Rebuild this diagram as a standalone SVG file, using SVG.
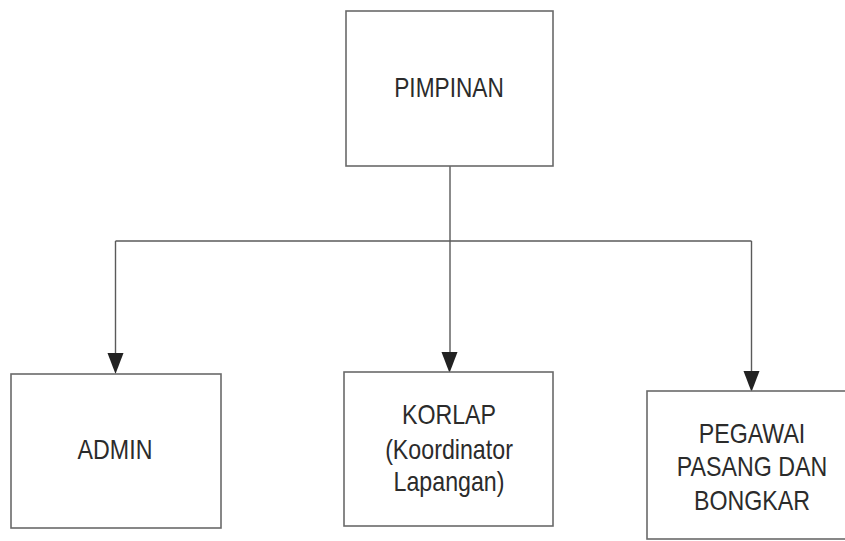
<svg xmlns="http://www.w3.org/2000/svg" width="845" height="541" viewBox="0 0 845 541">
  <style>
    .box { fill: #ffffff; stroke: #6a6a6a; stroke-width: 1.6; }
    .wire { fill: none; stroke: #5a5a5a; stroke-width: 1.4; }
    .head { fill: #222222; }
    .t { font-family: "Liberation Sans", Arial, sans-serif; font-size: 27px; fill: #2b2b2b; text-anchor: middle; }
  </style>
  <rect width="845" height="541" fill="#ffffff"/>

  <!-- connectors -->
  <g id="connectors">
    <path class="wire" d="M450,166 V353"/>
    <path class="wire" d="M115.5,241 H751.5"/>
    <path class="wire" d="M115.5,241 V354"/>
    <path class="wire" d="M751.5,241 V372"/>
    <polygon class="head" points="107.5,353 123.5,353 115.5,374"/>
    <polygon class="head" points="441.5,352 457.5,352 449.5,373"/>
    <polygon class="head" points="743.5,371 759.5,371 751.5,392"/>
  </g>

  <!-- top node -->
  <g id="pimpinan">
    <rect class="box" x="346" y="11" width="207" height="155"/>
    <text class="t" transform="translate(449,97) scale(0.84,1)">PIMPINAN</text>
  </g>

  <!-- subordinate nodes -->
  <g id="admin">
    <rect class="box" x="11" y="374" width="210" height="154"/>
    <text class="t" transform="translate(115,459) scale(0.86,1)">ADMIN</text>
  </g>

  <g id="korlap">
    <rect class="box" x="344" y="372" width="209" height="154"/>
    <text class="t" transform="translate(449,424) scale(0.86,1)">KORLAP</text>
    <text class="t" transform="translate(449,459) scale(0.86,1)">(Koordinator</text>
    <text class="t" transform="translate(449,491) scale(0.86,1)">Lapangan)</text>
  </g>

  <g id="pegawai">
    <rect class="box" x="647" y="391" width="212" height="148"/>
    <text class="t" transform="translate(752,443) scale(0.86,1)">PEGAWAI</text>
    <text class="t" transform="translate(752,476) scale(0.86,1)">PASANG DAN</text>
    <text class="t" transform="translate(752,510) scale(0.86,1)">BONGKAR</text>
  </g>
</svg>
